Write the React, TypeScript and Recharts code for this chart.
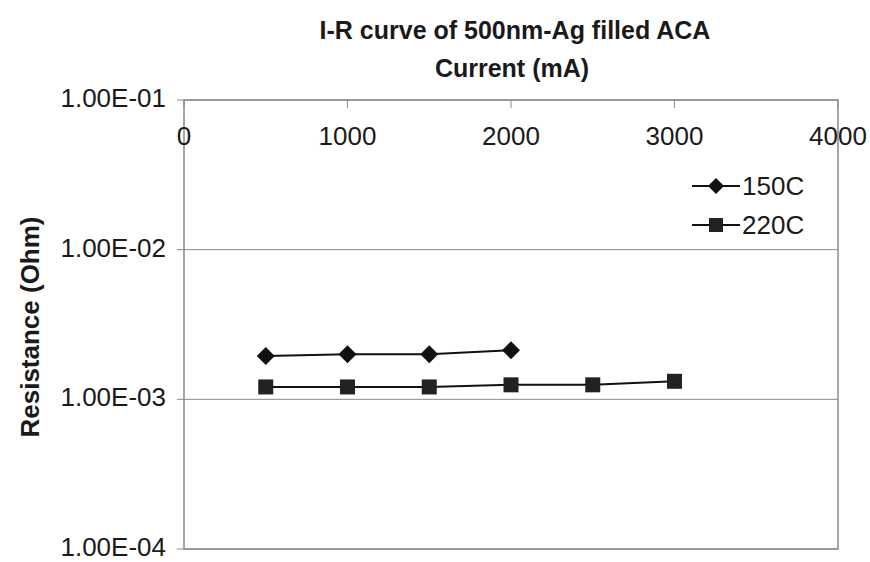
import React from "react";
import {
  LineChart,
  Line,
  XAxis,
  YAxis,
  CartesianGrid,
  ReferenceArea,
} from "recharts";

// Current (mA) on the top axis, resistance (Ohm) on a log scale
const currents = [500, 1000, 1500, 2000, 2500, 3000];
const r150C = [1.95e-3, 2.0e-3, 2.0e-3, 2.13e-3];
const r220C = [1.21e-3, 1.21e-3, 1.21e-3, 1.25e-3, 1.25e-3, 1.32e-3];
const xTicks = [0, 1000, 2000, 3000, 4000];
const yTicks = [1e-4, 1e-3, 1e-2, 1e-1];

const seriesNames = ["150C", "220C"];

const data = currents.map((c, i) => ({
  current: c,
  s150: r150C[i],
  s220: r220C[i],
}));

const FONT = "'Liberation Sans', Arial, sans-serif";
const GRID = "#8a8a8a";

const sci = (v: number) => {
  const [m, e] = v.toExponential(2).split("e");
  const neg = e[0] === "-";
  const digits = e.replace(/^[+-]/, "").padStart(2, "0");
  return `${m}E${neg ? "-" : "+"}${digits}`;
};

const Diamond = (props: any) => {
  const { cx, cy, index } = props;
  if (cx == null || cy == null) return <g key={`d-${index}`} />;
  const r = 9;
  return (
    <path
      key={`d-${index}`}
      d={`M${cx},${cy - r}L${cx + r},${cy}L${cx},${cy + r}L${cx - r},${cy}Z`}
      fill="#111"
    />
  );
};

const Square = (props: any) => {
  const { cx, cy, index } = props;
  if (cx == null || cy == null) return <g key={`s-${index}`} />;
  const h = 7.5;
  return <rect key={`s-${index}`} x={cx - h} y={cy - h} width={h * 2} height={h * 2} fill="#222" />;
};

const TopTick = (props: any) => {
  const { x, y, payload } = props;
  return (
    <g>
      <line x1={x} y1={y} x2={x} y2={y + 8} stroke={GRID} />
      <text
        x={x}
        y={y + 45}
        textAnchor="middle"
        fontFamily={FONT}
        fontSize={26}
        fill="#1a1a1a"
      >
        {payload.value}
      </text>
    </g>
  );
};

// y labels sit a hair above centre so the bottom one stays inside the frame
const LeftTick = (props: any) => {
  const { x, y, payload } = props;
  return (
    <text x={x} y={y + 7} textAnchor="end" fontFamily={FONT} fontSize={26} fill="#1a1a1a">
      {sci(payload.value)}
    </text>
  );
};

export default function App() {
  return (
    <div style={{ position: "absolute", left: 0, top: 0, width: 870, height: 562, background: "#fff" }}>
      <LineChart
        width={870}
        height={562}
        data={data}
        margin={{ top: 99, right: 32, bottom: 13, left: 0 }}
      >
        <CartesianGrid vertical={false} stroke={GRID} />
        <XAxis
          dataKey="current"
          type="number"
          orientation="top"
          domain={[0, 4000]}
          ticks={xTicks}
          height={1}
          tickSize={0}
          tickMargin={0}
          axisLine={false}
          tickLine={false}
          tick={<TopTick />}
          interval={0}
        />
        <YAxis
          scale="log"
          domain={[1e-4, 1e-1]}
          ticks={yTicks}
          allowDataOverflow
          width={184}
          tickSize={7}
          tickMargin={11}
          axisLine={false}
          tickLine={{ stroke: GRID }}
          tick={<LeftTick />}
          interval={0}
        />
        <ReferenceArea
          x1={0}
          x2={4000}
          y1={1e-4}
          y2={1e-1}
          fill="none"
          stroke={GRID}
          strokeWidth={1.5}
          ifOverflow="visible"
        />
        <Line
          dataKey="s150"
          name="150C"
          stroke="#111"
          strokeWidth={2}
          dot={Diamond}
          activeDot={false}
          connectNulls={false}
          isAnimationActive={false}
        />
        <Line
          dataKey="s220"
          name="220C"
          stroke="#111"
          strokeWidth={2}
          dot={Square}
          activeDot={false}
          isAnimationActive={false}
        />
      </LineChart>
      <svg
        width={870}
        height={562}
        style={{ position: "absolute", left: 0, top: 0, pointerEvents: "none" }}
      >
        <text x={515} y={39} textAnchor="middle" fontFamily={FONT} fontWeight="bold" fontSize={25} fill="#1a1a1a">
          I-R curve of 500nm-Ag filled ACA
        </text>
        <text x={512} y={77} textAnchor="middle" fontFamily={FONT} fontWeight="bold" fontSize={25} fill="#1a1a1a">
          Current (mA)
        </text>
        <text
          x={0}
          y={0}
          transform="translate(39,327) rotate(-90)"
          textAnchor="middle"
          fontFamily={FONT}
          fontWeight="bold"
          fontSize={26}
          fill="#1a1a1a"
        >
          Resistance (Ohm)
        </text>
        {seriesNames.map((name, i) => {
          const cy = 186 + i * 39;
          return (
            <g key={name}>
              <line x1={692} y1={cy} x2={740} y2={cy} stroke="#111" strokeWidth={2} />
              {i === 0 ? (
                <path d={`M716,${cy - 8}L724,${cy}L716,${cy + 8}L708,${cy}Z`} fill="#111" />
              ) : (
                <rect x={709} y={cy - 7} width={14} height={14} fill="#222" />
              )}
              <text x={742} y={cy + 9} fontFamily={FONT} fontSize={26} fill="#1a1a1a">
                {name}
              </text>
            </g>
          );
        })}
      </svg>
    </div>
  );
}
